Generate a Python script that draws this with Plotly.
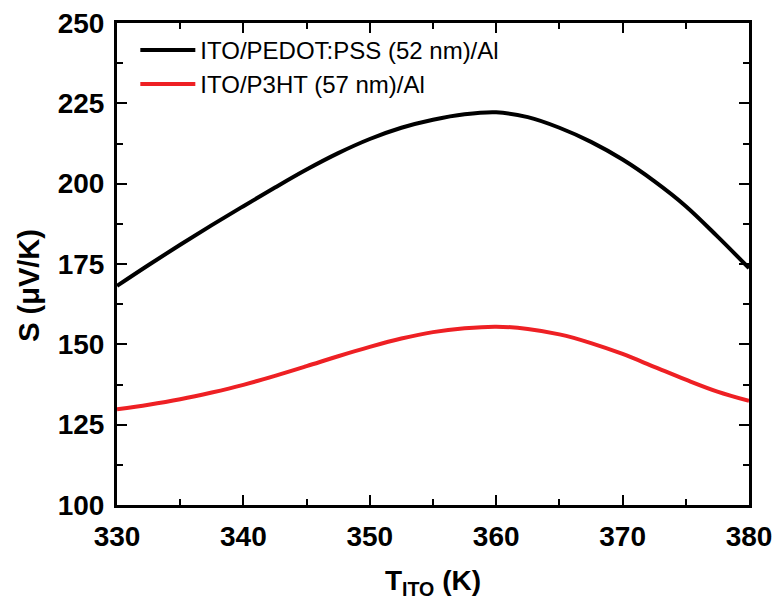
import plotly.graph_objects as go

# Temperature of the ITO electrode (K)
t_ito = [330, 332.5, 335, 337.5, 340, 342.5, 345, 347.5, 350, 352.5, 355,
         357.5, 360, 362.5, 365, 367.5, 370, 372.5, 375, 377.5, 380]

# Seebeck coefficient (uV/K) for the two device stacks
s_pedot = [168.2, 174.7, 181.0, 187.1, 193.0, 198.8, 204.4, 209.5, 213.9, 217.4, 219.9,
           221.6, 222.2, 220.7, 217.4, 213.0, 207.5, 200.8, 193.0, 183.6, 173.7]
s_p3ht = [129.8, 131.2, 132.9, 135.0, 137.4, 140.2, 143.2, 146.3, 149.2, 151.8, 153.8,
          155.0, 155.5, 154.8, 153.1, 150.4, 147.0, 143.0, 139.0, 135.3, 132.4]

names = ["ITO/PEDOT:PSS (52 nm)/Al", "ITO/P3HT (57 nm)/Al"]
colors = ["#000000", "#ee2024"]

x_ticks = [330, 340, 350, 360, 370, 380]
y_ticks = [100, 125, 150, 175, 200, 225, 250]

FONT = "Liberation Sans, Arial, sans-serif"

fig = go.Figure()
for ys, name, c in zip([s_pedot, s_p3ht], names, colors):
    fig.add_trace(go.Scatter(x=t_ito, y=ys, mode="lines", name=name,
                             line=dict(color=c, width=4, shape="spline")))

axis_common = dict(
    showline=True, linecolor="black", linewidth=3, mirror="allticks",
    ticks="inside", ticklen=10, tickwidth=2, tickcolor="black",
    showgrid=False, zeroline=False, automargin=False,
    tickfont=dict(family=FONT, size=28, color="black", weight="bold"),
)

fig.update_xaxes(
    range=[330, 380], tickvals=x_ticks,
    minor=dict(ticks="inside", ticklen=6, tickwidth=2, tickcolor="black", dtick=5, tick0=330),
    title=dict(text="T<sub>ITO</sub> (K)", font=dict(family=FONT, size=28, color="black", weight="bold"),
               standoff=20),
    ticklabelstandoff=4,
    **axis_common,
)
fig.update_yaxes(
    range=[100, 250], tickvals=y_ticks,
    minor=dict(ticks="inside", ticklen=6, tickwidth=2, tickcolor="black", dtick=12.5, tick0=100),
    ticklabelstandoff=4,
    **axis_common,
)

# Vertical axis title
fig.add_annotation(
    text="S (\u03bcV/K)", textangle=-90, showarrow=False,
    xref="paper", yref="paper", x=-0.139, y=0.455, xanchor="center", yanchor="middle",
    font=dict(family=FONT, size=29, color="black", weight="bold"),
)

fig.update_layout(
    width=774, height=600,
    margin=dict(l=117, r=25, t=23, b=95, autoexpand=False),
    plot_bgcolor="white", paper_bgcolor="white",
    showlegend=True,
    legend=dict(x=0.029, y=0.99, xanchor="left", yanchor="top",
                bgcolor="rgba(0,0,0,0)", itemwidth=55, tracegroupgap=0,
                font=dict(family=FONT, size=24, color="black")),
)

fig.write_html("out.html")
